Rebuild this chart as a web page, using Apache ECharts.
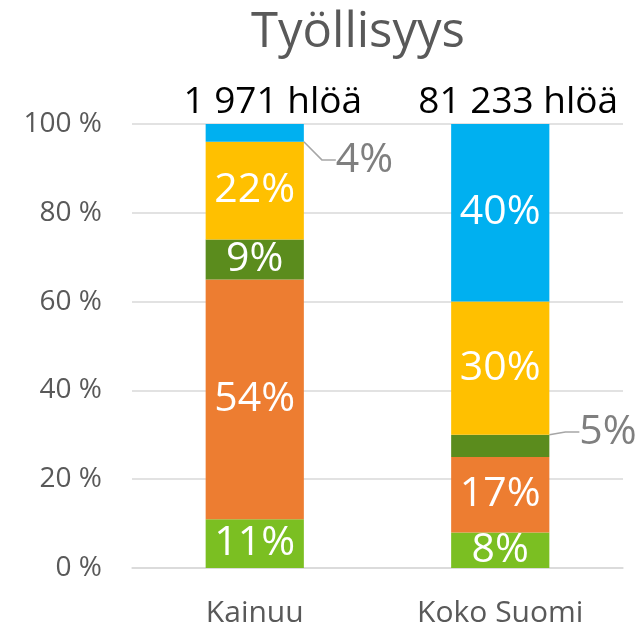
<!DOCTYPE html>
<html>
<head>
<meta charset="utf-8">
<script src="https://cdn.jsdelivr.net/npm/echarts@6/dist/echarts.min.js"></script>
<style>
  html, body { margin: 0; padding: 0; background: #fff; }
  #main { width: 641px; height: 630px; }
</style>
</head>
<body>
<div id="main"></div>
<script>
var categories = ['Kainuu', 'Koko Suomi'];
var totals = ['1 971 hlöä', '81 233 hlöä'];
var yTicks = [0, 20, 40, 60, 80, 100];
var lightGreen = [11, 8];
var orange = [54, 17];
var darkGreen = [9, 5];
var yellow = [22, 30];
var blue = [4, 40];

var font = 'Open Sans';
var gray = '#595959';

// pienet osuudet: nimiö palkin ulkopuolelle viivan kanssa
var outside = { 'blue-0': [27, 27], 'darkGreen-1': [25, -14] };

function items(key, values) {
  return values.map(function (v, i) {
    var o = outside[key + '-' + i];
    if (!o) return v;
    return {
      value: v,
      label: { position: 'right', color: '#7f7f7f' },
      labelLine: { show: true, lineStyle: { color: '#a6a6a6', width: 1.5 }, length2: 14 }
    };
  });
}

function layoutFor(key) {
  return function (p) {
    var o = outside[key + '-' + p.dataIndex];
    return o ? { dx: o[0], dy: o[1] } : {};
  };
}

function bar(key, color, values) {
  return {
    name: key,
    type: 'bar',
    stack: 'all',
    barWidth: '40%',
    itemStyle: { color: color },
    label: {
      show: true,
      position: 'inside',
      formatter: '{c}%',
      color: '#fff',
      fontFamily: font,
      fontSize: 41
    },
    labelLayout: layoutFor(key),
    data: items(key, values)
  };
}

var chart = echarts.init(document.getElementById('main'));
chart.setOption({
  animation: false,
  title: {
    text: 'Työllisyys',
    left: 246,
    top: 4,
    textStyle: { fontFamily: font, fontSize: 49, fontWeight: 'normal', color: gray }
  },
  grid: { left: 132, right: 18, top: 124, bottom: 62 },
  xAxis: [{
    type: 'category',
    data: categories,
    axisLine: { lineStyle: { color: '#d9d9d9', width: 1.5 } },
    axisTick: { show: false },
    axisLabel: { fontFamily: font, fontSize: 30, color: gray, margin: 30 }
  }, {
    type: 'category',
    position: 'top',
    data: totals,
    axisLine: { show: false },
    axisTick: { show: false },
    axisLabel: {
      interval: 0, hideOverlap: false, fontFamily: font, fontSize: 37,
      color: '#000', margin: 3, padding: [0, 0, 0, 36]
    }
  }],
  yAxis: {
    type: 'value',
    min: yTicks[0],
    max: yTicks[yTicks.length - 1],
    interval: 20,
    axisLine: { show: false },
    axisTick: { show: false },
    splitLine: { lineStyle: { color: '#d9d9d9', width: 1.5 } },
    axisLabel: { fontFamily: font, fontSize: 28, color: gray, margin: 30, formatter: '{value} %' }
  },
  series: [
    bar('lightGreen', '#7bbf22', lightGreen),
    bar('orange', '#ed7d31', orange),
    bar('darkGreen', '#5b8c1d', darkGreen),
    bar('yellow', '#ffc000', yellow),
    bar('blue', '#00b0f0', blue)
  ]
});
</script>
</body>
</html>
